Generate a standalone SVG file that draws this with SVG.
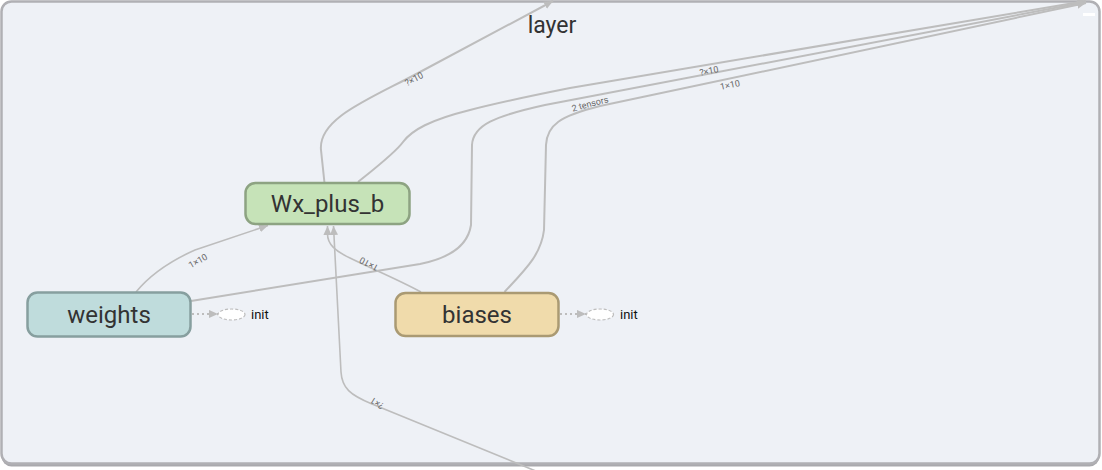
<svg xmlns="http://www.w3.org/2000/svg" width="1102" height="470" viewBox="0 0 1102 470">
<style>
.edge{fill:none;stroke:#bdbdbd;stroke-width:2}
.thin{stroke-width:1.6}
.dot{fill:none;stroke:#bdbdbd;stroke-width:2;stroke-dasharray:2 3}
.elabel{font-family:Roboto,"Liberation Sans",sans-serif;font-size:9px;fill:#666;text-anchor:middle}
.nlabel{font-family:Roboto,"Liberation Sans",sans-serif;font-size:24px;fill:#333;text-anchor:middle}
.init{font-family:Roboto,"Liberation Sans",sans-serif;font-size:13px;fill:#111}
.initnode{fill:#fff;stroke:#bdbdbd;stroke-width:1.2;stroke-dasharray:3 2}
</style>
<defs>
<marker id="arr" viewBox="0 0 10 10" refX="10" refY="5" markerWidth="9" markerHeight="9" markerUnits="userSpaceOnUse" orient="auto">
<path d="M0,0.5 L10,5 L0,9.5 z" fill="#bdbdbd"/>
</marker>
</defs>
<rect x="0" y="0" width="1102" height="470" fill="#fff"/>
<g id="container">
<rect x="1.5" y="4.5" width="1098" height="462" rx="10" fill="#a9a9ad"/>
<rect x="1.5" y="1.5" width="1098" height="462" rx="10" fill="#eef1f6" stroke="#b0b0b4" stroke-width="2.5"/>
<text x="552" y="33" font-family="Roboto,'Liberation Sans',sans-serif" font-size="23" fill="#333" text-anchor="middle">layer</text>
<rect x="1083" y="13" width="12" height="3" fill="#fff"/>
</g>
<g id="edges">
<path class="edge" d="M324.5 183 L321 150 C318 118 370 99 420 72 L553 1" marker-end="url(#arr)"/>
<path class="edge" d="M358 182 C378 166 396 152 403 142 C412 130 430 120 470 110 C500 102 530 96 570 88 L1086 1" marker-end="url(#arr)"/>
<path class="edge" d="M191 301 L420 264 C450 258 468 245 471 225 L472 145 C473 125 495 116 545 105 L1086 2" marker-end="url(#arr)"/>
<path class="edge" d="M504.5 292 C525 270 541 255 544 230 L546 145 C547 125 560 116 600 106 L1086 3" marker-end="url(#arr)"/>
<path class="edge thin" d="M136 292 C150 275 168 262 195 250 L268 225.5" marker-end="url(#arr)"/>
<path class="edge thin" d="M421 292 C395 278 370 268 350 258 C335 251 327.5 244 327.5 234 L327.5 226" marker-end="url(#arr)"/>
<path class="edge thin" d="M548 476 L372 404 C350 395 342 388 341 372 L333.5 226" marker-end="url(#arr)"/>
<path class="dot" d="M192 314 L218 314" marker-end="url(#arr)"/>
<path class="dot" d="M560 314 L586 314" marker-end="url(#arr)"/>
<text class="elabel" transform="translate(414 79) rotate(-28)" y="3">?×10</text>
<text class="elabel" transform="translate(709 71) rotate(-11)" y="3">?×10</text>
<text class="elabel" transform="translate(730 85) rotate(-12)" y="3">1×10</text>
<text class="elabel" transform="translate(590 104) rotate(-15)" y="3">2 tensors</text>
<text class="elabel" transform="translate(198 261) rotate(-30)" y="3">1×10</text>
<text class="elabel" transform="translate(369 264) rotate(208)" y="3">1×10</text>
<text class="elabel" transform="translate(377 403) rotate(212)" y="3">?×1</text>
</g>
<g id="Wx_plus_b">
<rect x="245.5" y="183" width="164" height="41" rx="10" fill="#c6e3b8" stroke="#8da382" stroke-width="2.5"/>
<text class="nlabel" x="327.5" y="212">Wx_plus_b</text>
</g>
<g id="weights">
<rect x="27.5" y="292.5" width="163" height="44" rx="10" fill="#bfdcdc" stroke="#879f9f" stroke-width="2.5"/>
<text class="nlabel" x="109" y="322.5">weights</text>
</g>
<g id="weights_init">
<ellipse class="initnode" cx="231.5" cy="314.5" rx="13.5" ry="5.5"/>
<text class="init" x="251" y="318.5">init</text>
</g>
<g id="biases">
<rect x="395.5" y="293" width="163" height="43" rx="10" fill="#f0dbab" stroke="#aa9a73" stroke-width="2.5"/>
<text class="nlabel" x="477" y="322.5">biases</text>
</g>
<g id="biases_init">
<ellipse class="initnode" cx="600" cy="314.5" rx="13.5" ry="5.5"/>
<text class="init" x="620" y="318.5">init</text>
</g>
</svg>
